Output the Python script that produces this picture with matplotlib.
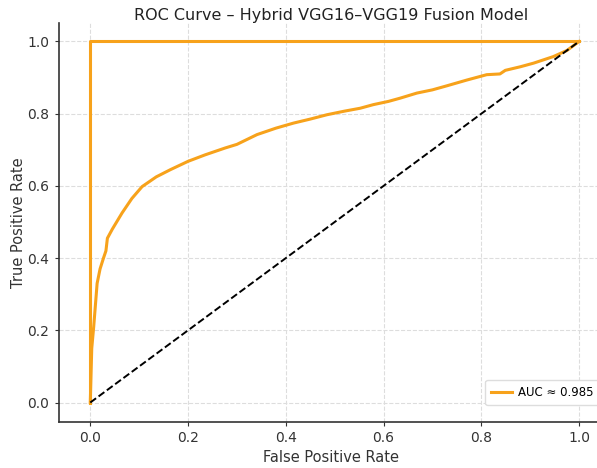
import numpy as np
import matplotlib
matplotlib.use('Agg')
import matplotlib.pyplot as plt

# ROC points
perfect_fpr = [0.0, 0.0, 1.0]
perfect_tpr = [0.0, 1.0, 1.0]

model_fpr = [0.0, 0.003, 0.007, 0.014, 0.02, 0.027, 0.032, 0.035, 0.045, 0.065,
             0.085, 0.106, 0.135, 0.164, 0.2, 0.235, 0.276, 0.3, 0.341, 0.38,
             0.416, 0.45, 0.484, 0.52, 0.552, 0.579, 0.61, 0.634, 0.668, 0.7,
             0.729, 0.77, 0.811, 0.838, 0.849, 0.88, 0.907, 0.947, 0.975, 1.0]
model_tpr = [0.0, 0.15, 0.21, 0.33, 0.37, 0.40, 0.42, 0.455, 0.48, 0.525,
             0.565, 0.598, 0.625, 0.645, 0.668, 0.686, 0.705, 0.715, 0.742, 0.76,
             0.774, 0.785, 0.797, 0.807, 0.815, 0.825, 0.834, 0.843, 0.857, 0.866,
             0.877, 0.893, 0.908, 0.91, 0.92, 0.93, 0.94, 0.958, 0.975, 1.0]

chance = [0.0, 1.0]
auc_label = 'AUC ≈ 0.985'
ticks = [0.0, 0.2, 0.4, 0.6, 0.8, 1.0]

orange = '#f7a21b'

fig = plt.figure(figsize=(5.97, 4.68), dpi=100)
ax = fig.add_axes([0.098, 0.099, 0.913, 0.851])

ax.plot(perfect_fpr, perfect_tpr, color=orange, lw=2.2, label=auc_label)
ax.plot(model_fpr, model_tpr, color=orange, lw=2.2)
ax.plot(chance, chance, 'k--', lw=1.4)

ax.set_xlim(-0.065, 1.05)
ax.set_ylim(-0.053, 1.05)
ax.set_xticks(ticks)
ax.set_yticks(ticks)
ax.tick_params(labelsize=10, colors='#333333', length=3)
ax.grid(True, linestyle='--', color='#dddddd', lw=0.8)

for s in ['top', 'right']:
    ax.spines[s].set_visible(False)
for s in ['left', 'bottom']:
    ax.spines[s].set_color('#333333')
    ax.spines[s].set_linewidth(1.2)

ax.set_title('ROC Curve – Hybrid VGG16–VGG19 Fusion Model', fontsize=11.5,
             color='#222222', pad=2)
ax.set_xlabel('False Positive Rate', fontsize=10.5, color='#333333')
ax.set_ylabel('True Positive Rate', fontsize=10.5, color='#333333', labelpad=1)

ax.legend(loc='lower left', bbox_to_anchor=(0.783, 0.042), borderaxespad=0,
          fontsize=8.5, handlelength=1.8, handletextpad=0.5, borderpad=0.5,
          framealpha=1, edgecolor='#dddddd')

fig.savefig('out.png', dpi=100)
